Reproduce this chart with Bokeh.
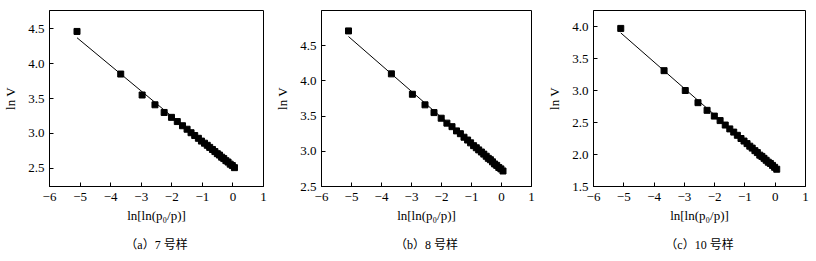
from bokeh.plotting import figure
from bokeh.layouts import row
from bokeh.models import Range1d, FixedTicker, Title
from bokeh.embed import file_html
from bokeh.resources import INLINE

# shared abscissa: ln[ln(p0/p)]
x_vals = [-5.10, -3.67, -2.97, -2.55, -2.25, -2.01, -1.82, -1.65, -1.50, -1.37,
          -1.25, -1.13, -1.03, -0.93, -0.84, -0.76, -0.67, -0.59, -0.51, -0.44,
          -0.37, -0.30, -0.23, -0.16, -0.09, -0.02, 0.05]

# ln V for samples 7, 8, 10
y_a = [4.46, 3.85, 3.55, 3.41, 3.30, 3.23, 3.17, 3.11, 3.06, 3.01, 2.97, 2.93,
       2.89, 2.86, 2.83, 2.80, 2.77, 2.74, 2.71, 2.69, 2.66, 2.64, 2.61, 2.59,
       2.56, 2.54, 2.51]
y_b = [4.71, 4.10, 3.81, 3.66, 3.55, 3.47, 3.40, 3.35, 3.29, 3.25, 3.20, 3.16,
       3.12, 3.08, 3.05, 3.02, 2.99, 2.96, 2.93, 2.90, 2.88, 2.85, 2.82, 2.80,
       2.77, 2.75, 2.72]
y_c = [3.97, 3.31, 3.00, 2.81, 2.69, 2.60, 2.53, 2.46, 2.40, 2.35, 2.30, 2.25,
       2.21, 2.17, 2.13, 2.10, 2.06, 2.03, 1.99, 1.97, 1.94, 1.91, 1.88, 1.86,
       1.83, 1.80, 1.77]

# fitted straight lines (end points)
fit_x = [-5.10, 0.05]
fit_a = [4.37, 2.50]
fit_b = [4.63, 2.72]
fit_c = [3.90, 1.77]

x_ticks = [-6, -5, -4, -3, -2, -1, 0, 1]
x_tick_labels = ["\u22126", "\u22125", "\u22124", "\u22123", "\u22122", "\u22121", "0", "1"]
y_ticks_a = [2.5, 3.0, 3.5, 4.0, 4.5]
y_ticks_b = [2.5, 3.0, 3.5, 4.0, 4.5]
y_ticks_c = [1.5, 2.0, 2.5, 3.0, 3.5, 4.0]
y_range_a = (2.24, 4.76)
y_range_b = (2.5, 5.0)
y_range_c = (1.5, 4.25)
captions = ["\uff08a\uff097 号样", "\uff08b\uff098 号样", "\uff08c\uff0910 号样"]
x_title = "ln[ln(p\u2080/p)]"
y_title = "ln V"

SERIF = "Liberation Serif"
CJK = "Liberation Serif, Noto Sans CJK SC"


def make_panel(ys, fit_y, yr, yticks, caption, fw, bl, br):
    p = figure(output_backend="svg", toolbar_location=None,
               frame_width=fw, frame_height=176,
               min_border_left=bl, min_border_right=br,
               min_border_top=10, min_border_bottom=75,
               x_range=Range1d(-6, 1), y_range=Range1d(*yr))
    p.background_fill_color = "white"
    p.border_fill_color = "white"
    p.outline_line_color = "black"
    p.outline_line_alpha = 1
    p.outline_line_width = 1
    p.grid.visible = False

    p.line(fit_x, fit_y, line_color="black", line_width=1)
    p.scatter(x_vals, ys, marker="square", size=6, fill_color="black", line_color="black")

    for ax in (p.xaxis[0], p.yaxis[0]):
        ax.major_tick_in = 4
        ax.major_tick_out = 0
        ax.minor_tick_line_color = None
        ax.axis_line_color = "black"
        ax.major_tick_line_color = "black"
        ax.major_label_text_font = SERIF
        ax.major_label_text_font_size = "13px"
        ax.major_label_text_color = "black"
        ax.axis_label_text_font = SERIF
        ax.axis_label_text_font_size = "13px"
        ax.axis_label_text_font_style = "normal"
        ax.axis_label_text_color = "black"

    p.xaxis.major_label_standoff = 6
    p.yaxis.major_label_standoff = 5
    p.xaxis.ticker = FixedTicker(ticks=x_ticks)
    p.xaxis.major_label_overrides = {t: l for t, l in zip(x_ticks, x_tick_labels)}
    p.yaxis.ticker = FixedTicker(ticks=yticks)
    p.yaxis.major_label_overrides = {t: f"{t:.1f}" for t in yticks}
    p.xaxis.axis_label = x_title
    p.yaxis.axis_label = y_title
    p.xaxis.axis_label_standoff = 4
    p.yaxis.axis_label_standoff = 7

    t = Title(text=caption, align="center", text_font=CJK,
              text_font_size="12px", text_font_style="normal",
              text_color="black", standoff=20)
    p.add_layout(t, "below")
    return p


p1 = make_panel(y_a, fit_a, y_range_a, y_ticks_a, captions[0], 214, 49, 9)
p2 = make_panel(y_b, fit_b, y_range_b, y_ticks_b, captions[1], 210, 49, 13)
p3 = make_panel(y_c, fit_c, y_range_c, y_ticks_c, captions[2], 212, 46, 14)

layout = row(p1, p2, p3, spacing=0)
open("out.html", "w").write(file_html(layout, INLINE))
